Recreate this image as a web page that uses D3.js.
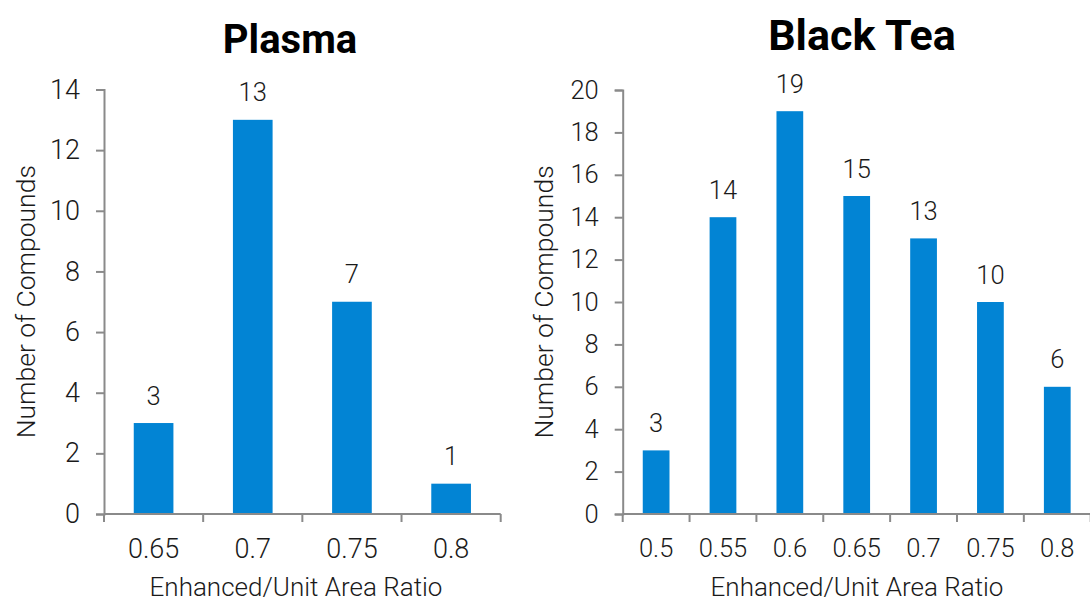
<!DOCTYPE html>
<html>
<head>
<meta charset="utf-8">
<script src="https://cdn.jsdelivr.net/npm/d3@7"></script>
<style>
  html, body { margin: 0; padding: 0; background: #ffffff; }
  svg { display: block; font-family: Roboto, "Noto Sans", sans-serif; }
</style>
</head>
<body>
<svg id="chart" width="1090" height="603"></svg>
<script>
// ---- data ----
const plasmaCategories = ["0.65", "0.7", "0.75", "0.8"];
const plasmaValues = [3, 13, 7, 1];
const plasmaYTicks = [0, 2, 4, 6, 8, 10, 12, 14];

const teaCategories = ["0.5", "0.55", "0.6", "0.65", "0.7", "0.75", "0.8"];
const teaValues = [3, 14, 19, 15, 13, 10, 6];
const teaYTicks = [0, 2, 4, 6, 8, 10, 12, 14, 16, 18, 20];

const titles = ["Plasma", "Black Tea"];
const xTitle = "Enhanced/Unit Area Ratio";
const yTitle = "Number of Compounds";

// ---- styling ----
const barColor = "#0284d4";
const axisColor = "#8a8a8a";
const textColor = "#1a1a1a";

const svg = d3.select("#chart");

function panel(cfg) {
  const g = svg.append("g");
  const x = d3.scaleBand()
    .domain(cfg.categories)
    .range([cfg.x0, cfg.x1])
    .paddingInner(0.6)
    .paddingOuter(0.3);
  const step = x.step();
  const y = d3.scaleLinear().domain([0, cfg.yMax]).range([cfg.yBottom, cfg.yTop]);

  // bars
  g.selectAll("rect.bar")
    .data(cfg.values)
    .join("rect")
    .attr("class", "bar")
    .attr("x", (d, i) => x(cfg.categories[i]))
    .attr("width", x.bandwidth())
    .attr("y", d => y(d))
    .attr("height", d => y(0) - y(d))
    .attr("fill", barColor);

  // value labels
  g.selectAll("text.val")
    .data(cfg.values)
    .join("text")
    .attr("class", "val")
    .attr("x", (d, i) => x(cfg.categories[i]) + x.bandwidth() / 2)
    .attr("y", d => y(d) - 18.5)
    .attr("text-anchor", "middle")
    .attr("font-size", cfg.valSize)
    .attr("font-weight", 300)
    .attr("fill", textColor)
    .text(d => d);

  // y axis
  const yAxis = d3.axisLeft(y).tickValues(cfg.yTicks).tickSize(8).tickPadding(cfg.yPad).tickFormat(d3.format("d"));
  const ya = g.append("g").attr("transform", `translate(${cfg.x0},0)`).call(yAxis);
  ya.select(".domain").attr("stroke", axisColor).attr("stroke-width", 2);
  ya.selectAll(".tick line").attr("stroke", axisColor).attr("stroke-width", 2);
  ya.selectAll(".tick text")
    .attr("font-size", cfg.tickSize)
    .attr("font-weight", 300)
    .attr("fill", textColor)
    .attr("font-family", "Roboto");

  // x axis: labels centred on bars, ticks on category boundaries
  const xAxis = d3.axisBottom(x).tickSize(0).tickPadding(0);
  const xa = g.append("g").attr("transform", `translate(0,${cfg.yBottom})`).call(xAxis);
  xa.select(".domain").remove();
  xa.selectAll(".tick text")
    .attr("y", cfg.xLabelDy)
    .attr("dy", null)
    .attr("font-size", cfg.tickSize)
    .attr("font-weight", 300)
    .attr("fill", textColor)
    .attr("font-family", "Roboto");
  const bounds = d3.range(cfg.categories.length + 1).map(i => cfg.x0 + i * step);
  g.append("line")
    .attr("x1", cfg.x0).attr("x2", bounds[bounds.length - 1])
    .attr("y1", cfg.yBottom).attr("y2", cfg.yBottom)
    .attr("stroke", axisColor).attr("stroke-width", 2);
  g.selectAll("line.xt")
    .data(bounds)
    .join("line")
    .attr("class", "xt")
    .attr("x1", d => d).attr("x2", d => d)
    .attr("y1", cfg.yBottom).attr("y2", cfg.yBottom + 8)
    .attr("stroke", axisColor).attr("stroke-width", 2);

  // title
  g.append("text")
    .attr("x", cfg.titleX).attr("y", cfg.titleY)
    .attr("text-anchor", "middle")
    .attr("font-size", cfg.titleSize)
    .attr("font-weight", 700)
    .attr("fill", "#000")
    .text(cfg.title);

  // x title
  g.append("text")
    .attr("x", cfg.xTitleX).attr("y", 596)
    .attr("text-anchor", "middle")
    .attr("font-size", 26)
    .attr("font-weight", 300)
    .attr("fill", textColor)
    .text(xTitle);

  // y title
  g.append("text")
    .attr("transform", `translate(${cfg.yTitleX},${(cfg.yTop + cfg.yBottom) / 2}) rotate(-90)`)
    .attr("text-anchor", "middle")
    .attr("font-size", 26.5)
    .attr("font-weight", 300)
    .attr("fill", textColor)
    .text(yTitle);
}

panel({
  categories: plasmaCategories, values: plasmaValues, yTicks: plasmaYTicks, yMax: 14,
  x0: 104, x1: 500.7, yTop: 89.5, yBottom: 514,
  title: titles[0], titleX: 290, titleY: 53, titleSize: 40,
  tickSize: 27, valSize: 25.5, yPad: 16, xLabelDy: 44, yTitleX: 35, xTitleX: 296
});

panel({
  categories: teaCategories, values: teaValues, yTicks: teaYTicks, yMax: 20,
  x0: 622.7, x1: 1090.7, yTop: 90, yBottom: 514,
  title: titles[1], titleX: 862, titleY: 50, titleSize: 43,
  tickSize: 25.5, valSize: 25.5, yPad: 16, xLabelDy: 43, yTitleX: 553, xTitleX: 857
});
</script>
</body>
</html>
